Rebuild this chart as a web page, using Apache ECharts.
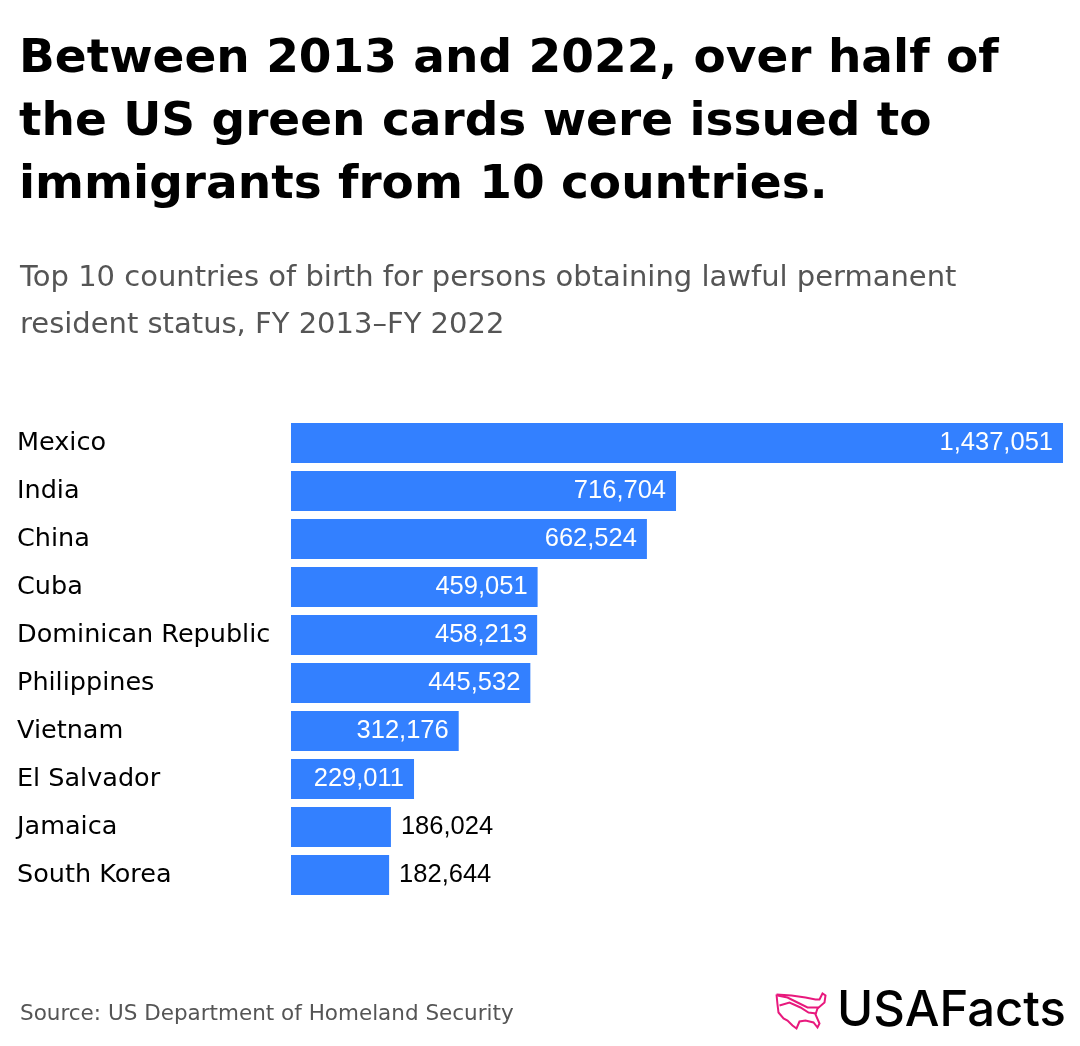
<!DOCTYPE html>
<html><head><meta charset="utf-8">
<script src="https://cdn.jsdelivr.net/npm/echarts@6/dist/echarts.min.js"></script>
<style>html,body{margin:0;padding:0;background:#fff}#c{width:1080px;height:1046px}</style>
</head><body><div id="c"></div>
<script>
const countries = ["Mexico","India","China","Cuba","Dominican Republic","Philippines","Vietnam","El Salvador","Jamaica","South Korea"];
const values = [1437051,716704,662524,459051,458213,445532,312176,229011,186024,182644];
const titleText = "Between 2013 and 2022, over half of\nthe US green cards were issued to\nimmigrants from 10 countries.";
const subtitleText = "Top 10 countries of birth for persons obtaining lawful permanent\nresident status, FY 2013\u2013FY 2022";
const sourceText = "Source: US Department of Homeland Security";

const FONT = "'DejaVu Sans', sans-serif";
const NUMFONT = "'Liberation Sans', Arial, sans-serif";
const chart = echarts.init(document.getElementById('c'));
const data = values.map(v => {
  const outside = v < 200000;
  return {
    value: v,
    label: outside
      ? {position: 'right', color: '#000', distance: 10}
      : {position: 'insideRight', color: '#fff', distance: 10}
  };
});
chart.setOption({
  backgroundColor: '#fff',
  animation: false,
  title: [
    {text: titleText, left: 14, top: 23,
     textStyle: {fontFamily: FONT, fontSize: 47, fontWeight: 'bold', color: '#000', lineHeight: 63}},
    {text: subtitleText, left: 15, top: 250,
     textStyle: {fontFamily: FONT, fontSize: 29, fontWeight: 'normal', color: '#555', lineHeight: 47}},
    {text: sourceText, left: 15, top: 998,
     textStyle: {fontFamily: FONT, fontSize: 21.5, fontWeight: 'normal', color: '#555'}}
  ],
  grid: {left: 291, right: 17, top: 419, bottom: 147, containLabel: false},
  xAxis: {type: 'value', min: 0, max: 1437051, show: false},
  yAxis: {
    type: 'category', data: countries, inverse: true,
    axisLine: {show: false}, axisTick: {show: false}, splitLine: {show: false},
    axisLabel: {align: 'left', margin: 274, color: '#000', fontFamily: FONT, fontSize: 25.5}
  },
  series: [{
    type: 'bar', data: data, barCategoryGap: '16.7%',
    itemStyle: {color: '#3380FF'},
    label: {show: true, fontFamily: NUMFONT, fontSize: 25.5,
      formatter: p => p.value.toLocaleString('en-US')}
  }],
  graphic: [
    {type: 'text', left: 837, top: 987,
     style: {text: 'USAFacts', fontFamily: "Inter, sans-serif", fontSize: 49, fontWeight: 500, fill: '#000'}},
    {type: 'polyline', left: 774, top: 991,
     shape: {points: [[1,2],[16,3],[30,5],[40,7],[44,7],[47,1],[50,3],[49,10],[42,16],[40,22],[44,31],[42,35],[38,30],[30,28],[24,29],[21,36],[17,33],[12,28],[8,26],[3,20],[2,12],[1,2]]},
     style: {fill: 'none', stroke: '#E8197D', lineWidth: 2}},
    {type: 'polyline', left: 775, top: 993,
     shape: {points: [[0,0],[10,2],[20,7],[30,12],[41,12]]},
     style: {fill: 'none', stroke: '#E8197D', lineWidth: 2}},
    {type: 'polyline', left: 777, top: 1000,
     shape: {points: [[0,3],[10,0],[21,5],[29,10],[37,11]]},
     style: {fill: 'none', stroke: '#E8197D', lineWidth: 2}}
  ]
});
</script></body></html>
